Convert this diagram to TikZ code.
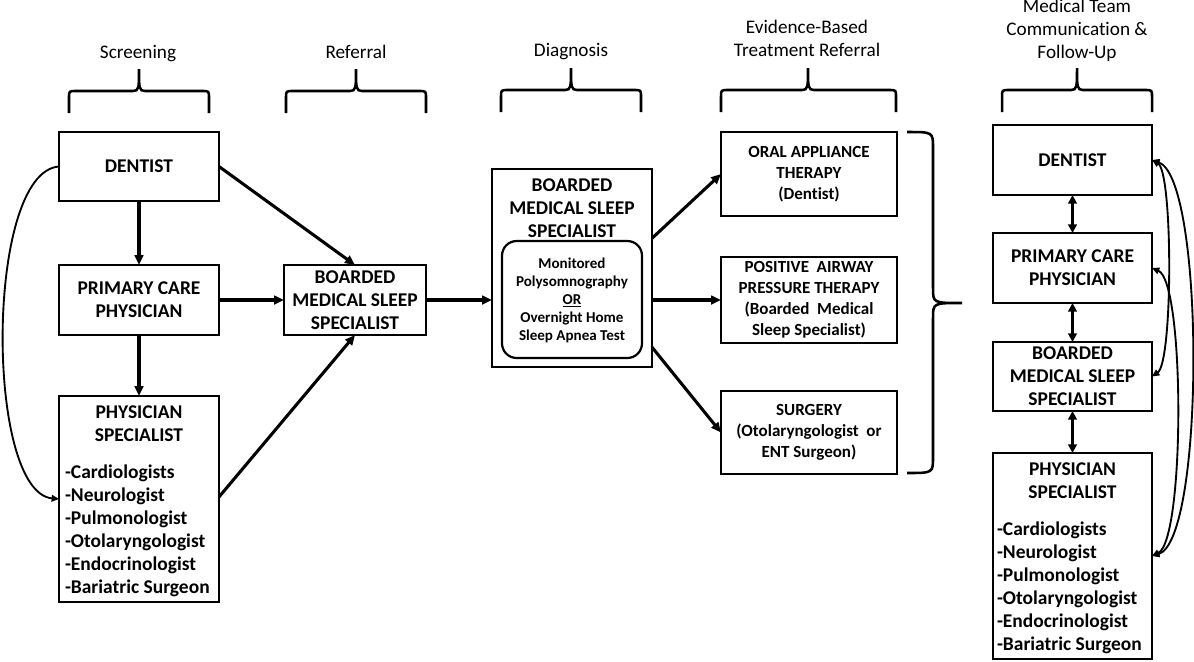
\documentclass[tikz,border=0pt]{standalone}
\usepackage{fontspec}
\setmainfont{Carlito}[Ligatures={TeX,NoCommon}]
\usetikzlibrary{arrows.meta,calc}
\begin{document}
\begin{tikzpicture}[x=0.75pt,y=-0.75pt,
  every node/.style={inner sep=0pt, outer sep=0pt},
  box/.style={draw, line width=1.65pt},
  bt/.style={font=\fontsize{14.6}{17.25}\selectfont\bfseries, align=center},
  bl/.style={font=\fontsize{14.6}{17.25}\selectfont\bfseries, align=left},
  tt/.style={font=\fontsize{12.75}{15.75}\selectfont\bfseries, align=center},
  it/.style={font=\fontsize{11.3}{13.4}\selectfont\bfseries, align=center},
  hdr/.style={font=\fontsize{14.4}{17.25}\selectfont, align=center},
  arr/.style={line width=2.3pt, -{Triangle[length=7.5pt,width=6.5pt]}},
  darr/.style={line width=2.5pt, {Triangle[length=6.5pt,width=6.5pt]}-{Triangle[length=6.5pt,width=6.5pt]}},
  crv/.style={line width=1.4pt, -{Triangle[length=5.5pt,width=5pt]}},
  dcrv/.style={line width=1.4pt, {Triangle[length=5.5pt,width=5pt]}-{Triangle[length=5.5pt,width=5pt]}},
  brc/.style={line width=1.9pt}]
\useasboundingbox (0,0) rectangle (1194,661);
\fill[white] (0,0) rectangle (1194,661);

% headers
\node[hdr] (h1) at (138,54) {Screening};
\node[hdr] (h2) at (356,52) {Referral};
\node[hdr] (h3) at (571,52) {Diagnosis};
\node[hdr] (h4) at (807,38.5) {Evidence-Based\\Treatment Referral};
\node[hdr] (h5) at (1077,30.5) {Medical Team\\Communication \&\\Follow-Up};

% braces
\draw[brc] (69,113) -- (69,98) .. controls (69,91) .. (76,91) -- (133,91) .. controls (139,91) and (139,88) .. (139,69) .. controls (139,88) and (139,91) .. (145,91) -- (202,91) .. controls (209,91) .. (209,98) -- (209,113);
\draw[brc] (286,113) -- (286,98) .. controls (286,91) .. (293,91) -- (350,91) .. controls (356,91) and (356,88) .. (356,69) .. controls (356,88) and (356,91) .. (362,91) -- (419,91) .. controls (426,91) .. (426,98) -- (426,113);
\draw[brc] (501,112) -- (501,97) .. controls (501,90) .. (508,90) -- (565,90) .. controls (571,90) and (571,87) .. (571,68) .. controls (571,87) and (571,90) .. (577,90) -- (634,90) .. controls (641,90) .. (641,97) -- (641,112);
\draw[brc] (721,112) -- (721,97) .. controls (721,90) .. (728,90) -- (802,90) .. controls (808,90) and (808,87) .. (808,68) .. controls (808,87) and (808,90) .. (814,90) -- (889,90) .. controls (896,90) .. (896,97) -- (896,112);
\draw[brc] (1002,112) -- (1002,97) .. controls (1002,90) .. (1009,90) -- (1071,90) .. controls (1077,90) and (1077,87) .. (1077,68) .. controls (1077,87) and (1077,90) .. (1083,90) -- (1145,90) .. controls (1152,90) .. (1152,97) -- (1152,112);
\draw[brc] (907,132) .. controls (933,132) .. (933,148) -- (933,288) .. controls (933,303) .. (962,303) .. controls (933,303) .. (933,318) -- (933,457) .. controls (933,473) .. (907,473);

% left column
\node[box, bt, minimum width=120pt, minimum height=51.75pt] (LD) at (139,166.5) {DENTIST};
\node[box, bt, minimum width=120pt, minimum height=52.5pt] (LP) at (139,300) {PRIMARY CARE\\PHYSICIAN};
\node[box, minimum width=120pt, minimum height=154.5pt] (LS) at (139,499) {};
\node[bt] (LSt) at (139,424) {PHYSICIAN\\SPECIALIST};
\node[bl, anchor=west] (LSl) at (65,531) {-Cardiologists\\-Neurologist\\-Pulmonologist\\-Otolaryngologist\\-Endocrinologist\\-Bariatric Surgeon};

% referral
\node[box, bt, minimum width=106.5pt, minimum height=52.5pt] (RB) at (355,300) {BOARDED\\MEDICAL SLEEP\\SPECIALIST};

% diagnosis
\node[box, minimum width=120pt, minimum height=148.5pt] (DG) at (572,268) {};
\node[bt] (DGt) at (572,208) {BOARDED\\MEDICAL SLEEP\\SPECIALIST};
\node[draw, line width=1.65pt, rounded corners=11pt, minimum width=105pt, minimum height=87.75pt] (DI) at (572,299.5) {};
\node[it] (DIt) at (572,300.5) {Monitored\\Polysomnography\\\underline{OR}\\Overnight Home\\Sleep Apnea Test};

% treatments
\node[box, tt, minimum width=132pt, minimum height=63pt] (TO) at (809,174) {ORAL APPLIANCE\\THERAPY\\(Dentist)};
\node[box, tt, minimum width=132pt, minimum height=64.5pt] (TP) at (809,300) {POSITIVE\ \ AIRWAY\\PRESSURE THERAPY\\(Boarded\ \ Medical\\Sleep Specialist)};
\node[box, tt, minimum width=132pt, minimum height=62.25pt] (TS) at (809,432.5) {SURGERY\\(Otolaryngologist\ \ or\\ENT Surgeon)};

% right column
\node[box, bt, minimum width=119.25pt, minimum height=52.5pt] (RD) at (1072.5,160) {DENTIST};
\node[box, bt, minimum width=119.25pt, minimum height=52.5pt] (RP) at (1072.5,268) {PRIMARY CARE\\PHYSICIAN};
\node[box, bt, minimum width=119.25pt, minimum height=51.75pt] (RM) at (1072.5,376.5) {BOARDED\\MEDICAL SLEEP\\SPECIALIST};
\node[box, minimum width=119.25pt, minimum height=154.5pt] (RS) at (1072.5,556) {};
\node[bt] (RSt) at (1072.5,480.5) {PHYSICIAN\\SPECIALIST};
\node[bl, anchor=west] (RSl) at (997,588) {-Cardiologists\\-Neurologist\\-Pulmonologist\\-Otolaryngologist\\-Endocrinologist\\-Bariatric Surgeon};

% left arrows
\draw[arr] (LD.south) -- (LP.north);
\draw[arr] (LP.south) -- (LS.north);
\draw[arr] (LD.east) -- (RB.north);
\draw[arr] (LP.east) -- (RB.west);
\draw[arr] ($(LS.north east)!0.49!(LS.south east)$) -- (RB.south);
\draw[crv] (LD.west) .. controls (-15,172) and (-15,492) .. (LS.west);
\draw[arr] (RB.east) -- (RB.east -| DG.west);

% diagnosis to treatments
\draw[arr] ($(DG.north east)!0.35!(DG.south east)$) -- (TO.west);
\draw[arr] (TP.west -| DG.east) -- (TP.west);
\draw[arr] ($(DG.north east)!0.9!(DG.south east)$) -- (TS.west);

% right column arrows
\draw[darr] (RD.south) -- (RP.north);
\draw[darr] (RP.south) -- (RM.north);
\draw[darr] (RM.south) -- (RS.north);
\draw[dcrv] (RD.east) .. controls (1205,178) and (1205,540) .. (RS.east);
\draw[dcrv] (RD.east) .. controls (1173,172) and (1173,362) .. (RM.east);
\draw[dcrv] (RP.east) .. controls (1185,282) and (1185,540) .. (RS.east);
\end{tikzpicture}
\end{document}
